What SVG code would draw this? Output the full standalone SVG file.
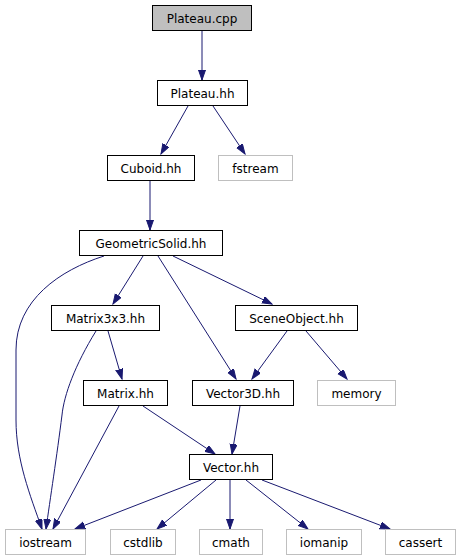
<svg xmlns="http://www.w3.org/2000/svg" width="460" height="560" viewBox="0 0 460 560">
<style>
.n rect{fill:#ffffff;stroke:#000000;stroke-width:1}
.n.root rect{fill:#bfbfbf}
.n.ext rect{stroke:#bfbfbf}
.n text{font-family:"DejaVu Sans",sans-serif;font-size:12px;fill:#000000;text-anchor:middle}
.e path{fill:none;stroke:#191970;stroke-width:1;marker-end:url(#ah)}
</style>
<defs>
<marker id="ah" markerUnits="userSpaceOnUse" markerWidth="11" markerHeight="8" refX="10" refY="3.5" orient="auto">
<path d="M0,0 L10,3.5 L0,7 z" fill="#191970" stroke="#191970" stroke-width="1"/>
</marker>
</defs>
<rect width="460" height="560" fill="#ffffff"/>
<g class="e" id="connectors">
<path d="M202,31 L202,80"/>
<path d="M188,106 L161,154"/>
<path d="M213,106 L245,154"/>
<path d="M150,181 L150,230"/>
<path d="M104,256 C60,270 16,300 16,350 L16,420 C16,460 30,495 42,529"/>
<path d="M143,256 L113,304"/>
<path d="M158,256 L236,379"/>
<path d="M173,256 L272,304"/>
<path d="M96,331 C75,365 64,395 62,415 C57,455 50,500 46,529"/>
<path d="M108,331 L122,379"/>
<path d="M287,331 L252,379"/>
<path d="M306,331 L347,379"/>
<path d="M119,406 L53,529"/>
<path d="M143,406 L215,454"/>
<path d="M240,406 L232,454"/>
<path d="M201,480 L75,529"/>
<path d="M216,480 L157,529"/>
<path d="M230,480 L230,529"/>
<path d="M246,480 L308,529"/>
<path d="M262,480 L390,529"/>
</g>
<g class="n root" id="node-plateau-cpp"><rect x="152.5" y="5.5" width="99" height="25"/><text x="202" y="23">Plateau.cpp</text></g>
<g class="n" id="node-plateau-hh"><rect x="157.5" y="80.5" width="90" height="25"/><text x="202.5" y="98">Plateau.hh</text></g>
<g class="n" id="node-cuboid-hh"><rect x="107.5" y="155.5" width="87" height="25"/><text x="151" y="173">Cuboid.hh</text></g>
<g class="n ext" id="node-fstream"><rect x="218.5" y="155.5" width="74" height="25"/><text x="255.5" y="173">fstream</text></g>
<g class="n" id="node-geometricsolid-hh"><rect x="79.5" y="230.5" width="143" height="25"/><text x="151" y="248">GeometricSolid.hh</text></g>
<g class="n" id="node-matrix3x3-hh"><rect x="51.5" y="305.5" width="108" height="25"/><text x="105.5" y="323">Matrix3x3.hh</text></g>
<g class="n" id="node-sceneobject-hh"><rect x="235.5" y="305.5" width="122" height="25"/><text x="296.5" y="323">SceneObject.hh</text></g>
<g class="n" id="node-matrix-hh"><rect x="83.5" y="380.5" width="84" height="25"/><text x="125.5" y="398">Matrix.hh</text></g>
<g class="n" id="node-vector3d-hh"><rect x="192.5" y="380.5" width="101" height="25"/><text x="243" y="398">Vector3D.hh</text></g>
<g class="n ext" id="node-memory"><rect x="317.5" y="380.5" width="78" height="25"/><text x="356.5" y="398">memory</text></g>
<g class="n" id="node-vector-hh"><rect x="189.5" y="454.5" width="83" height="25"/><text x="231" y="472">Vector.hh</text></g>
<g class="n ext" id="node-iostream"><rect x="5.5" y="529.5" width="80" height="25"/><text x="45.5" y="547">iostream</text></g>
<g class="n ext" id="node-cstdlib"><rect x="110.5" y="529.5" width="65" height="25"/><text x="143" y="547">cstdlib</text></g>
<g class="n ext" id="node-cmath"><rect x="199.5" y="529.5" width="63" height="25"/><text x="231" y="547">cmath</text></g>
<g class="n ext" id="node-iomanip"><rect x="286.5" y="529.5" width="75" height="25"/><text x="324" y="547">iomanip</text></g>
<g class="n ext" id="node-cassert"><rect x="385.5" y="529.5" width="70" height="25"/><text x="420.5" y="547">cassert</text></g>
</svg>
